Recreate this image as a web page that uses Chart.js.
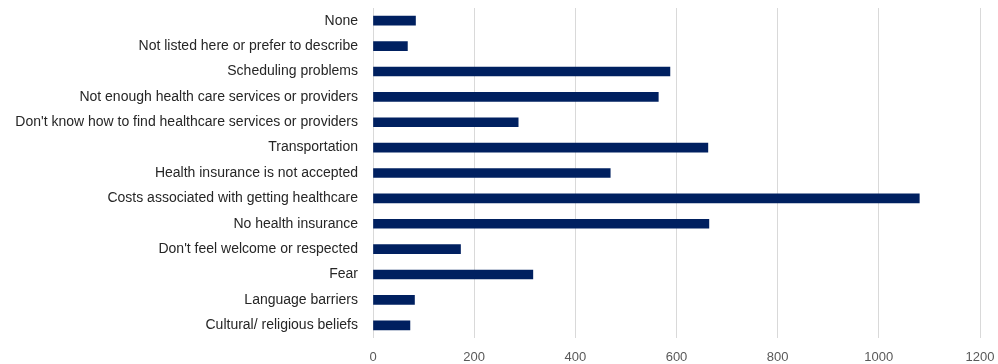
<!DOCTYPE html>
<html>
<head>
<meta charset="utf-8">
<script src="https://cdn.jsdelivr.net/npm/chart.js@4/dist/chart.umd.min.js"></script>
<style>
  html, body { margin: 0; padding: 0; background: #ffffff; }
  #wrap { width: 998px; height: 364px; position: relative; }
</style>
</head>
<body>
<div id="wrap"><canvas id="c" width="998" height="364"></canvas></div>
<script>
const categories = [
  "None",
  "Not listed here or prefer to describe",
  "Scheduling problems",
  "Not enough health care services or providers",
  "Don't know how to find healthcare services or providers",
  "Transportation",
  "Health insurance is not accepted",
  "Costs associated with getting healthcare",
  "No health insurance",
  "Don't feel welcome or respected",
  "Fear",
  "Language barriers",
  "Cultural/ religious beliefs"
];
const counts = [84, 68, 587, 564, 287, 662, 469, 1080, 664, 173, 316, 82, 73];
const xTicks = [0, 200, 400, 600, 800, 1000, 1200];

new Chart(document.getElementById('c'), {
  type: 'bar',
  data: {
    labels: categories,
    datasets: [{
      data: counts,
      backgroundColor: '#002060',
      borderWidth: 0,
      barThickness: 9
    }]
  },
  options: {
    indexAxis: 'y',
    responsive: false,
    animation: false,
    layout: { padding: { top: 8, right: 18, left: 0, bottom: 0 } },
    plugins: { legend: { display: false }, tooltip: { enabled: false } },
    scales: {
      x: {
        min: 0, max: 1200,
        afterBuildTicks: (s) => { s.ticks = xTicks.map(v => ({ value: v })); },
        afterFit: (s) => { s.height = 26; s.paddingLeft = 0; s.paddingRight = 0; },
        grid: { color: '#d9d9d9', drawTicks: false, lineWidth: 1 },
        border: { display: false },
        ticks: { color: '#595959', font: { family: 'Liberation Sans', size: 13 }, padding: 12,
                 callback: (v) => String(v) }
      },
      y: {
        afterFit: (s) => { s.width = 373; s.paddingTop = 0; s.paddingBottom = 0; },
        grid: { display: false, drawTicks: false },
        border: { display: false },
        ticks: { color: '#262626', font: { family: 'Liberation Sans', size: 14 }, padding: 15, autoSkip: false }
      }
    }
  }
});
</script>
</body>
</html>
